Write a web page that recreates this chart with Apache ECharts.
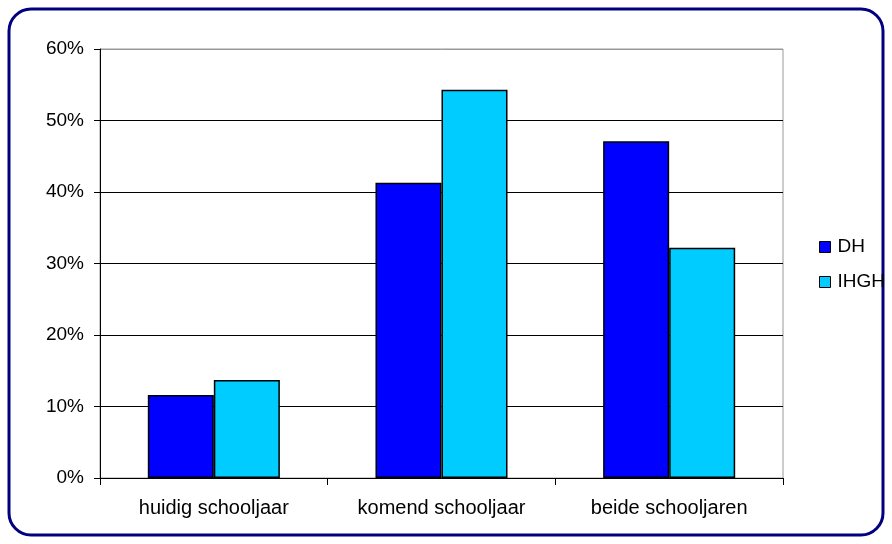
<!DOCTYPE html>
<html>
<head>
<meta charset="utf-8">
<script src="https://cdn.jsdelivr.net/npm/echarts@6/dist/echarts.min.js"></script>
<style>html,body{margin:0;padding:0;background:#fff}#c{width:892px;height:544px}</style>
</head>
<body>
<div id="c"></div>
<script>
var categories = ['huidig schooljaar', 'komend schooljaar', 'beide schooljaren'];
var seriesNames = ['DH', 'IHGH'];
var dhValues = [11.6, 41.3, 47.1];
var ihghValues = [13.7, 54.3, 32.2];
var seriesColors = ['#0000FF', '#00CCFF'];

var chart = echarts.init(document.getElementById('c'));
var font = 'Liberation Sans, Arial, sans-serif';
chart.setOption({
  animation: false,
  backgroundColor: '#fff',
  graphic: [{
    type: 'rect',
    z: -10,
    shape: { x: 9, y: 9, width: 874, height: 526, r: 22 },
    style: { fill: 'none', stroke: '#000080', lineWidth: 3 },
    silent: true
  }],
  grid: {
    left: 100, top: 49, width: 683, height: 429,
    show: true, borderColor: '#999', borderWidth: 1, backgroundColor: 'transparent'
  },
  legend: {
    orient: 'vertical',
    z: 20,
    left: 814, top: 232,
    itemWidth: 11, itemHeight: 11, itemGap: 15,
    icon: 'rect',
    textStyle: { fontFamily: font, fontSize: 19, color: '#000', padding: [0, 0, 0, 2], lineHeight: 20 },
    itemStyle: { borderColor: '#000', borderWidth: 1 },
    data: seriesNames
  },
  xAxis: {
    type: 'category',
    data: categories,
    axisLine: { lineStyle: { color: '#000', width: 1 } },
    axisTick: { show: true, length: 7, alignWithLabel: false, lineStyle: { color: '#000' } },
    axisLabel: { fontFamily: font, fontSize: 20, color: '#000', margin: 20 }
  },
  yAxis: {
    type: 'value',
    min: 0, max: 60, interval: 10,
    axisLine: { show: true, lineStyle: { color: '#000', width: 1 } },
    axisTick: { show: true, length: 6, lineStyle: { color: '#000' } },
    axisLabel: { fontFamily: font, fontSize: 19, color: '#000', margin: 16, formatter: '{value}%' },
    splitLine: { show: true, lineStyle: { color: ['#000', '#000', '#000', '#000', '#000', '#000', '#999'], width: 1 } }
  },
  series: [{
    name: seriesNames[0], type: 'bar', data: dhValues,
    barGap: '0%', barCategoryGap: '42%',
    itemStyle: { color: seriesColors[0], borderColor: '#000', borderWidth: 1.5 }
  }, {
    name: seriesNames[1], type: 'bar', data: ihghValues,
    barGap: '0%', barCategoryGap: '42%',
    itemStyle: { color: seriesColors[1], borderColor: '#000', borderWidth: 1.5 }
  }]
});
</script>
</body>
</html>
